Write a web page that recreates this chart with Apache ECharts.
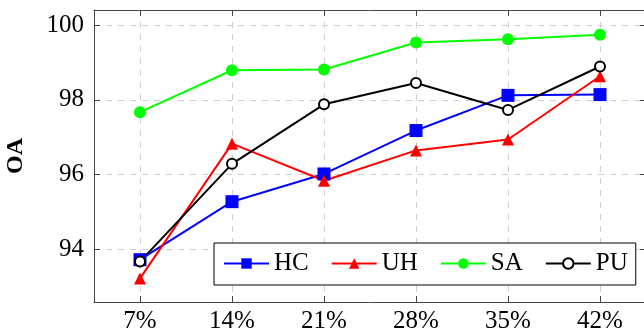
<!DOCTYPE html>
<html>
<head>
<meta charset="utf-8">
<script src="https://cdn.jsdelivr.net/npm/echarts@6/dist/echarts.min.js"></script>
<style>
  html, body { margin: 0; padding: 0; background: #fff; }
  #chart { width: 644px; height: 334px; }
</style>
</head>
<body>
<div id="chart"></div>
<script>
// Labelled sample ratios along the x axis
const categories = ['7%', '14%', '21%', '28%', '35%', '42%'];

// Overall accuracy (OA) of each method
const hcValues = [93.73, 95.28, 96.02, 97.18, 98.12, 98.14];
const uhValues = [93.23, 96.83, 95.84, 96.65, 96.94, 98.63];
const saValues = [97.67, 98.79, 98.81, 99.53, 99.62, 99.74];
const puValues = [93.68, 96.29, 97.88, 98.45, 97.73, 98.89];

const seriesNames = ['HC', 'UH', 'SA', 'PU'];

const FONT = '"Liberation Serif", "DejaVu Serif", serif';
const AXIS_COLOR = '#444';
const GRID_COLOR = '#cfcfcf';

const chart = echarts.init(document.getElementById('chart'), null, { renderer: 'canvas' });

const frameAxisLine = { show: true, lineStyle: { color: AXIS_COLOR, width: 1 } };
const innerTick = { show: true, inside: true, length: 6, lineStyle: { color: AXIS_COLOR, width: 1 } };
const dashedGrid = { show: true, lineStyle: { color: GRID_COLOR, width: 1, type: [6, 6] } };

function lineSeries(name, values, color, symbol, size, extra) {
  return Object.assign({
    name: name,
    type: 'line',
    data: values,
    xAxisIndex: 0,
    yAxisIndex: 0,
    symbol: symbol,
    symbolSize: size,
    showAllSymbol: true,
    lineStyle: { color: color, width: 2 },
    itemStyle: { color: color },
    emphasis: { disabled: true },
    animation: false
  }, extra || {});
}

chart.setOption({
  backgroundColor: '#fff',
  animation: false,
  grid: {
    left: 94, top: 10, width: 552, height: 292,
    containLabel: false,
    outerBoundsMode: 'none'
  },
  legend: {
    data: seriesNames,
    left: 214,
    top: 243,
    orient: 'horizontal',
    itemWidth: 45,
    itemHeight: 13,
    itemGap: 22,
    padding: [8, 8, 9, 9],
    borderColor: '#000',
    borderWidth: 1,
    borderRadius: 0,
    backgroundColor: '#fff',
    textStyle: { fontFamily: FONT, fontSize: 25, color: '#000' },
    selectedMode: false
  },
  xAxis: [
    {
      type: 'category',
      data: categories,
      position: 'bottom',
      boundaryGap: true,
      axisLine: frameAxisLine,
      axisTick: Object.assign({ alignWithLabel: true }, innerTick),
      axisLabel: { fontFamily: FONT, fontSize: 25, color: '#000', margin: 7 },
      splitLine: Object.assign({ alignWithLabel: true }, dashedGrid)
    },
    {
      type: 'category',
      data: categories,
      position: 'top',
      boundaryGap: true,
      axisLine: frameAxisLine,
      axisTick: Object.assign({ alignWithLabel: true }, innerTick),
      axisLabel: { show: false },
      splitLine: { show: false }
    }
  ],
  yAxis: [
    {
      type: 'value',
      position: 'left',
      min: 92.6,
      max: 100.4,
      splitNumber: 4,
      name: 'OA',
      nameLocation: 'middle',
      nameGap: 66,
      nameTextStyle: { fontFamily: FONT, fontSize: 24, fontWeight: 'bold', color: '#000' },
      axisLine: frameAxisLine,
      axisTick: innerTick,
      axisLabel: { fontFamily: FONT, fontSize: 25, color: '#000', margin: 10, showMinLabel: false, showMaxLabel: false },
      splitLine: dashedGrid
    },
    {
      type: 'value',
      position: 'right',
      min: 92.6,
      max: 100.4,
      splitNumber: 4,
      axisLine: frameAxisLine,
      axisTick: innerTick,
      axisLabel: { show: false },
      splitLine: { show: false }
    }
  ],
  series: [
    lineSeries('HC', hcValues, '#0000ff', 'rect', 13),
    lineSeries('UH', uhValues, '#ff0000', 'triangle', 12),
    lineSeries('SA', saValues, '#00ff00', 'circle', 12),
    lineSeries('PU', puValues, '#000000', 'emptyCircle', 10, {
      itemStyle: { color: '#000', borderColor: '#000', borderWidth: 2 }
    })
  ]
});
</script>
</body>
</html>
